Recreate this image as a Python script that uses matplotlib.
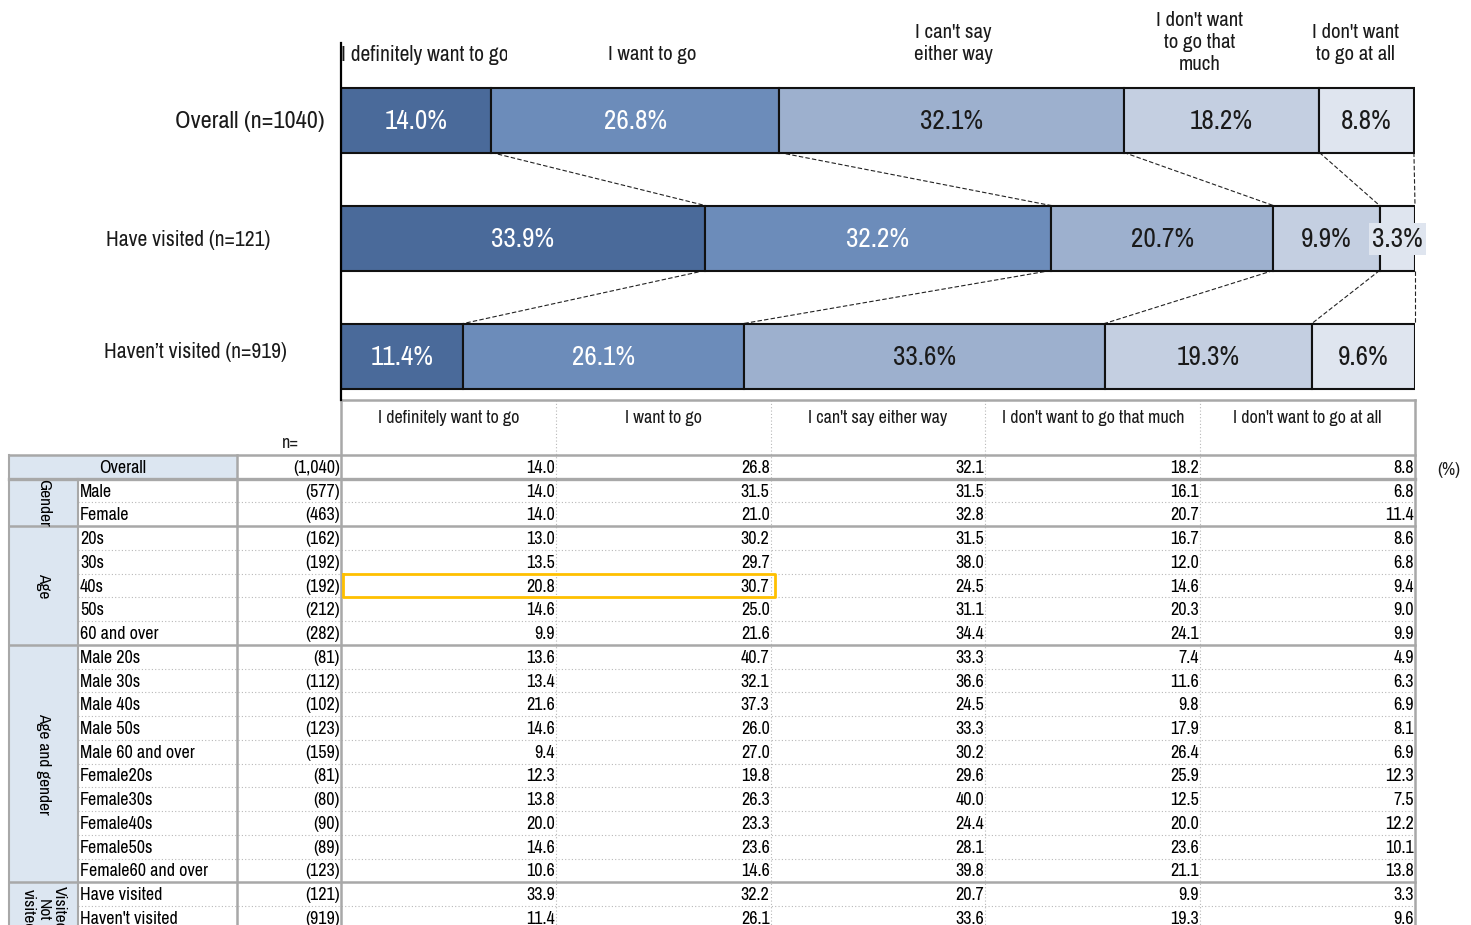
"""Recreate the 'want to go' survey chart: stacked bars with a summary table below."""
import matplotlib
matplotlib.use('Agg')
import matplotlib.pyplot as plt
from matplotlib.transforms import Bbox, TransformedBbox

W, H = 1471, 925

# Answer categories
answers = ['I definitely want to go', 'I want to go', "I can't say either way",
           "I don't want to go that much", "I don't want to go at all"]
answers_wrapped = ['I definitely want to go', 'I want to go', "I can't say\neither way",
                   "I don't want\nto go that\nmuch", "I don't want\nto go at all"]

# Bar chart rows
bar_labels = ['Overall (n=1040)', 'Have visited (n=121)', 'Haven\u2019t visited (n=919)']
bar_overall = [14.0, 26.8, 32.1, 18.2, 8.8]
bar_visited = [33.9, 32.2, 20.7, 9.9, 3.3]
bar_not_visited = [11.4, 26.1, 33.6, 19.3, 9.6]

# Table rows
row_labels = ['Overall', 'Male', 'Female', '20s', '30s', '40s', '50s', '60 and over',
              'Male 20s', 'Male 30s', 'Male 40s', 'Male 50s', 'Male 60 and over',
              'Female20s', 'Female30s', 'Female40s', 'Female50s', 'Female60 and over',
              'Have visited', "Haven't visited"]
row_n = ['(1,040)', '(577)', '(463)', '(162)', '(192)', '(192)', '(212)', '(282)',
         '(81)', '(112)', '(102)', '(123)', '(159)', '(81)', '(80)', '(90)', '(89)', '(123)',
         '(121)', '(919)']
col_definitely = [14.0, 14.0, 14.0, 13.0, 13.5, 20.8, 14.6, 9.9, 13.6, 13.4, 21.6, 14.6, 9.4,
                  12.3, 13.8, 20.0, 14.6, 10.6, 33.9, 11.4]
col_want = [26.8, 31.5, 21.0, 30.2, 29.7, 30.7, 25.0, 21.6, 40.7, 32.1, 37.3, 26.0, 27.0,
            19.8, 26.3, 23.3, 23.6, 14.6, 32.2, 26.1]
col_either = [32.1, 31.5, 32.8, 31.5, 38.0, 24.5, 31.1, 34.4, 33.3, 36.6, 24.5, 33.3, 30.2,
              29.6, 40.0, 24.4, 28.1, 39.8, 20.7, 33.6]
col_not_much = [18.2, 16.1, 20.7, 16.7, 12.0, 14.6, 20.3, 24.1, 7.4, 11.6, 9.8, 17.9, 26.4,
                25.9, 12.5, 20.0, 23.6, 21.1, 9.9, 19.3]
col_not_at_all = [8.8, 6.8, 11.4, 8.6, 6.8, 9.4, 9.0, 9.9, 4.9, 6.3, 6.9, 8.1, 6.9,
                  12.3, 7.5, 12.2, 10.1, 13.8, 3.3, 9.6]

# Row groups: (label, first row, number of rows)
groups = [('Gender', 1, 2), ('Age', 3, 5), ('Age and gender', 8, 10),
          ('Visited/\nNot\nvisited', 18, 2)]

seg_colors = ['#4A6A9A', '#6C8CBA', '#9DB0CE', '#C4CFE1', '#DFE5EF']
label_colors = ['white', 'white', '#1a1a1a', '#1a1a1a', '#1a1a1a']

# narrow sans families first, the first one installed is used
FONT = ['Liberation Sans Narrow', 'Arial Narrow', 'Archivo Narrow', 'Roboto Condensed',
        'PT Sans Narrow', 'IBM Plex Sans Condensed', 'Liberation Sans', 'DejaVu Sans']
plt.rcParams['font.family'] = FONT

TFS = 13  # table font size

fig = plt.figure(figsize=(W / 100, H / 100), dpi=100)

# ---- table layer, drawn in pixel coordinates ----
tab = fig.add_axes([0, 0, 1, 1])
tab.set_xlim(0, W)
tab.set_ylim(H, 0)
tab.axis('off')

grey = '#A8A8A8'
dot = '#B8B8B8'
x_left, x_grp, x_lab, x_n, x_end = 9, 78, 237, 341, 1415
col_w = (x_end - x_n) / 5
col_edges = [x_n + col_w * k for k in range(6)]
y_head, y_top = 400, 455
row_h = 23.74
n_rows = len(row_labels)
y_rows = [y_top + row_h * k for k in range(n_rows + 1)]

# fills
tab.fill_between([x_left, x_lab], y_rows[0], y_rows[1], color='#DCE6F1', lw=0)
for g, start, cnt in groups:
    tab.fill_between([x_left, x_grp], y_rows[start], y_rows[start + cnt], color='#DCE6F1', lw=0)

# dotted row separators inside groups
for g, start, cnt in groups:
    for k in range(start + 1, start + cnt):
        tab.plot([x_grp, x_end], [y_rows[k], y_rows[k]], color=dot, lw=0.8, ls=(0, (1, 2)))

# dotted column separators
for xe in col_edges[1:5]:
    tab.plot([xe, xe], [y_head, H], color=dot, lw=0.8, ls=(0, (1, 2)))

# solid grey borders
tab.plot([x_n, x_end], [y_head, y_head], color=grey, lw=1.8)
tab.plot([x_left, x_end], [y_top, y_top], color=grey, lw=1.8)
tab.plot([x_left, x_end], [y_rows[1], y_rows[1]], color=grey, lw=2.4)
for g, start, cnt in groups[:-1]:
    yb = y_rows[start + cnt]
    tab.plot([x_left, x_end], [yb, yb], color=grey, lw=1.8)
tab.plot([x_grp, x_grp], [y_rows[1], H], color=grey, lw=1.5)
tab.plot([x_left, x_left], [y_top, H], color=grey, lw=1.5)
tab.plot([x_lab, x_lab], [y_top, H], color=grey, lw=1.8)
tab.plot([x_n, x_n], [y_head, H], color=grey, lw=1.8)
tab.plot([x_end, x_end], [y_head, H], color=grey, lw=1.8)

# header texts
for k, name in enumerate(answers):
    tab.text((col_edges[k] + col_edges[k + 1]) / 2, 418, name, ha='center', va='center',
             fontsize=TFS, color='#1a1a1a')
tab.text(290, 443, 'n=', ha='center', va='center', fontsize=TFS, color='#1a1a1a')
tab.text(1449, 470, '(%)', ha='center', va='center', fontsize=TFS, color='#1a1a1a')

# row texts
columns = [col_definitely, col_want, col_either, col_not_much, col_not_at_all]
for r in range(n_rows):
    yc = (y_rows[r] + y_rows[r + 1]) / 2 + 1
    if r == 0:
        tab.text((x_left + x_lab) / 2, yc, row_labels[r], ha='center', va='center', fontsize=TFS)
    else:
        tab.text(x_grp + 2, yc, row_labels[r], ha='left', va='center', fontsize=TFS)
    tab.text(x_n - 1, yc, row_n[r], ha='right', va='center', fontsize=TFS)
    for k, col in enumerate(columns):
        tab.text(col_edges[k + 1] - 1, yc, f'{col[r]:.1f}', ha='right', va='center', fontsize=TFS)

for g, start, cnt in groups:
    yc = (y_rows[start] + y_rows[start + cnt]) / 2
    if start == 18:
        yc += 4
    tab.text((x_left + x_grp) / 2, yc, g, ha='center', va='center', rotation=-90,
             fontsize=12.5, linespacing=1.05)

# highlighted cells (40s row, first two answers)
hl = row_labels.index('40s')
tab.plot([x_n + 2, col_edges[2] + 4, col_edges[2] + 4, x_n + 2, x_n + 2],
         [y_rows[hl], y_rows[hl], y_rows[hl + 1], y_rows[hl + 1], y_rows[hl]],
         color='#FFC000', lw=2)

# ---- stacked bar chart ----
unit = 118.0
ax_top, ax_bot = 43, 400
ax = fig.add_axes([x_n / W, 1 - ax_bot / H, (x_end - x_n) / W, (ax_bot - ax_top) / H])
ax.patch.set_visible(False)
ax.set_xlim(0, 100)
ax.set_ylim((ax_bot - 120) / unit, (ax_top - 120) / unit)
for s in ['top', 'right', 'bottom']:
    ax.spines[s].set_visible(False)
ax.spines['left'].set_linewidth(1.6)
ax.set_xticks([])
ax.set_yticks([])

bar_rows = [bar_overall, bar_visited, bar_not_visited]
bar_h = 65 / unit
cums = []
for i, vals in enumerate(bar_rows):
    left = 0
    edges = []
    for k, v in enumerate(vals):
        ax.barh(i, v, left=left, height=bar_h, color=seg_colors[k], edgecolor='#111111',
                linewidth=1.5, zorder=2)
        txt = f'{v:.1f}%'
        if v < 5:
            ax.text(left + v / 2, i + 0.01, txt, ha='center', va='center', fontsize=19.5,
                    color=label_colors[k], zorder=4, clip_on=False,
                    bbox=dict(boxstyle='square,pad=0.12', fc=seg_colors[k], ec='none'))
        else:
            ax.text(left + v / 2, i + 0.01, txt, ha='center', va='center', fontsize=19.5,
                    color=label_colors[k], zorder=4)
        left += v
        edges.append(left)
    cums.append(edges)

# dashed connectors between bars
for i in range(len(bar_rows) - 1):
    for k in range(5):
        ax.plot([cums[i][k], cums[i + 1][k]], [i + bar_h / 2, i + 1 - bar_h / 2],
                color='#222222', lw=0.8, ls=(0, (4, 2)), zorder=1, clip_on=False)

# row labels of the bars
label_x = [250, 188, 195]
label_y = [121, 240, 352]
label_fs = [17.5, 15.5, 15.5]
for i, lab in enumerate(bar_labels):
    fig.text(label_x[i] / W, 1 - label_y[i] / H, lab, ha='center', va='center',
             fontsize=label_fs[i], color='#1a1a1a')

# answer headers above the bars
head_x = [None, 652, 953, 1200, 1355]
head_y = [55, 55, 44, 43, 43]
t0 = fig.text(341 / W, 1 - head_y[0] / H, answers_wrapped[0], ha='left', va='center',
              fontsize=15.5, color='#1a1a1a')
t0.set_clip_box(TransformedBbox(Bbox.from_extents(0, 0, 507 / W, 1), fig.transFigure))
t0.set_clip_on(True)
for k in range(1, 5):
    fig.text(head_x[k] / W, 1 - head_y[k] / H, answers_wrapped[k], ha='center', va='center',
             fontsize=15, color='#1a1a1a', linespacing=1.2)

fig.savefig('out.png', dpi=100)
